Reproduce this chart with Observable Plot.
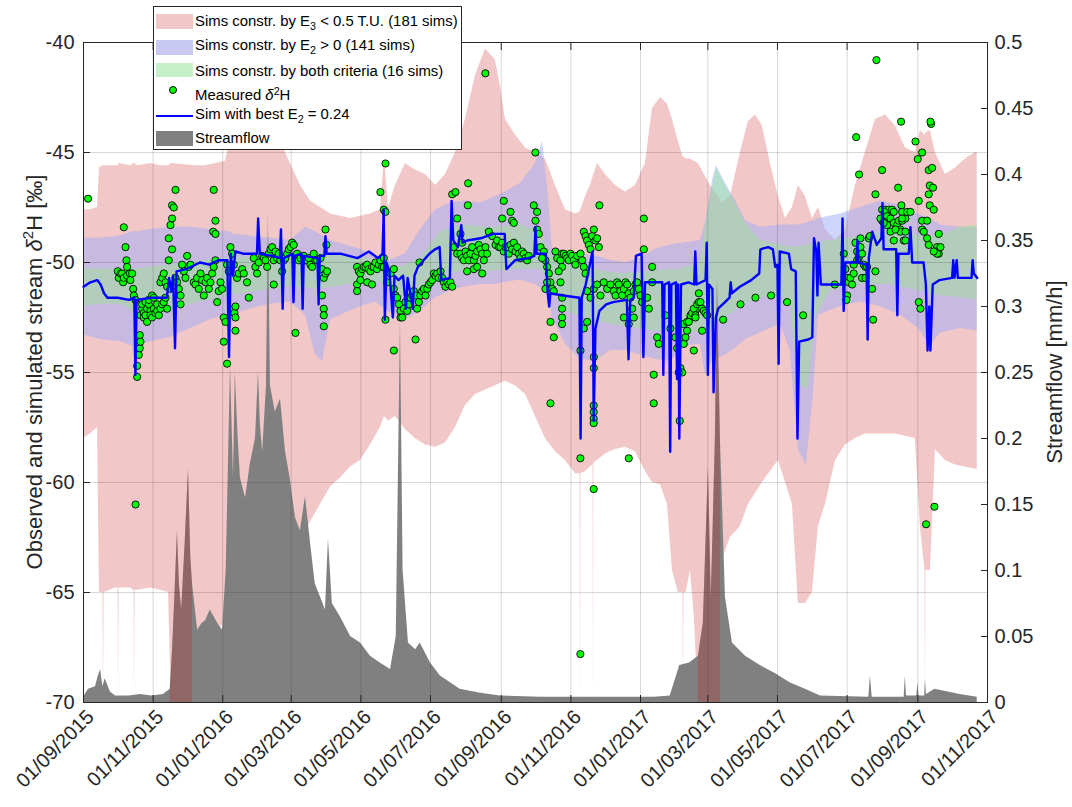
<!DOCTYPE html>
<html><head><meta charset="utf-8">
<script src="https://cdn.jsdelivr.net/npm/d3@7"></script>
<script src="https://cdn.jsdelivr.net/npm/@observablehq/plot@0.6"></script>
<style>
body{margin:0;background:#fff;font-family:"Liberation Sans",Arial,Helvetica,sans-serif;}
#wrap{position:relative;width:1072px;height:807px;}
#legend{position:absolute;left:153px;top:6px;width:307px;height:142px;border:1px solid #262626;background:#fff;font-size:14.9px;color:#000;line-height:17px;}
.sw{position:absolute;left:2px;width:37px;height:15px;}
.lbl{position:absolute;left:41px;white-space:nowrap;}
.dot{position:absolute;width:8px;height:8px;box-sizing:border-box;border:1px solid #000;border-radius:50%;background:#00ff00;}
.ln{position:absolute;left:2px;width:37px;height:2.2px;background:#0000ff;}
sub{font-size:72%;vertical-align:-0.4em;line-height:0;}
sup{font-size:72%;vertical-align:0.5em;line-height:0;}
</style></head><body>
<div id="wrap">
<div id="legend">
 <div class="sw" style="top:7px;background:#f0c8c8"></div>
 <div class="lbl" style="top:6px">Sims constr. by E<sub>3</sub> &lt; 0.5 T.U. (181 sims)</div>
 <div class="sw" style="top:33px;background:#c8c8f0"></div>
 <div class="lbl" style="top:30px">Sims constr. by E<sub>2</sub> &gt; 0 (141 sims)</div>
 <div class="sw" style="top:56px;height:14px;background:#c8f0c8"></div>
 <div class="lbl" style="top:56px">Sims constr. by both criteria (16 sims)</div>
 <div class="dot" style="left:15px;top:79px"></div>
 <div class="lbl" style="top:80px">Measured <i>δ</i><sup>2</sup>H</div>
 <div class="ln" style="top:108px"></div>
 <div class="lbl" style="top:99px">Sim with best E<sub>2</sub> = 0.24</div>
 <div class="sw" style="top:124px;background:#808080"></div>
 <div class="lbl" style="top:123px">Streamflow</div>
</div>
</div>
<script>
// day offsets from 2015-09-01
const startDate = "2015-09-01";
const xTickLabels = ["2015-09-01","2015-11-01","2016-01-01","2016-03-01","2016-05-01","2016-07-01","2016-09-01","2016-11-01","2017-01-01","2017-03-01","2017-05-01","2017-07-01","2017-09-01","2017-11-01"];
const yLeftTicks = [-70,-65,-60,-55,-50,-45,-40];
const yRightTicks = [0,0.05,0.1,0.15,0.2,0.25,0.3,0.35,0.4,0.45,0.5];

// streamflow [day, mm/h]
const streamflow = [[0,0.004],[4.4,0.01],[10.5,0.012],[13,0.02],[15,0.025],[17,0.012],[19,0.018],[23.6,0.008],[28,0.005],[40,0.005],[50,0.006],[60,0.005],[70,0.006],[76,0.01],[78,0.04],[80,0.08],[82.3,0.13],[84,0.09],[86,0.07],[89,0.12],[92,0.177],[94,0.11],[95.5,0.09],[100,0.055],[104,0.06],[107,0.062],[111,0.07],[115.6,0.063],[119,0.058],[121.8,0.055],[125,0.1],[128.8,0.255],[131.4,0.17],[133,0.25],[135.5,0.2],[137.5,0.17],[142,0.155],[146,0.18],[150.7,0.2],[153.3,0.25],[155,0.21],[157,0.19],[160.3,0.24],[162,0.37],[163.8,0.24],[168,0.22],[172.6,0.23],[177,0.19],[181,0.17],[185.7,0.14],[190,0.13],[194.5,0.156],[199,0.12],[203,0.09],[207.6,0.08],[212,0.07],[214.6,0.124],[218,0.075],[225,0.065],[234,0.05],[242.7,0.045],[251.4,0.035],[260,0.03],[269,0.025],[274,0.05],[277.7,0.29],[280,0.1],[284.7,0.045],[291,0.04],[295,0.045],[304,0.03],[312.7,0.02],[330,0.01],[348,0.007],[365,0.005],[400,0.004],[450,0.004],[500,0.004],[514,0.005],[519.5,0.02],[522.4,0.028],[531,0.03],[538.7,0.035],[543,0.06],[547.5,0.178],[550,0.08],[553.6,0.2],[555.4,0.32],[558,0.2],[562.4,0.08],[568.5,0.045],[580,0.035],[593,0.028],[606,0.022],[619,0.015],[632.5,0.01],[645.6,0.005],[688,0.004],[689.4,0.02],[691,0.004],[719,0.004],[720,0.02],[721,0.005],[730,0.005],[731,0.015],[732,0.005],[737,0.005],[737.6,0.018],[738.5,0.006],[746,0.01],[768,0.006],[783,0.004]];

// periods in which the E3 band reaches the bottom of the axis [from day, to day]
const e3DeepPeriods = [[76,99],[537,560]];

// band of sims constrained by E3 [day, low, high]
const bandE3 = [[0,-58.0,-47.6],[6.1,-57.8,-47.6],[12.3,-57.5,-47.5],[14,-65.0,-45.7],[17,-65.0,-45.6],[17.5,-70,-45.6],[18,-65.0,-45.6],[28,-64.8,-45.6],[30.3,-64.8,-45.6],[30.7,-70,-45.6],[31.1,-64.8,-45.5],[41.2,-64.8,-45.6],[44.3,-64.9,-45.5],[44.7,-70,-45.5],[45.1,-64.9,-45.5],[47.3,-64.9,-45.6],[58.7,-64.8,-45.5],[67.5,-64.9,-45.6],[74.5,-65.0,-45.6],[77,-70,-45.5],[98.1,-70,-45.6],[106.9,-68.5,-45.6],[115.6,-67.0,-45.5],[124.4,-66.2,-45.4],[130.5,-65.0,-44.0],[137.5,-64.8,-43.2],[150.7,-64.6,-42.8],[162,-64.5,-43.0],[172.6,-64.0,-44.5],[181.3,-63.6,-45.5],[190.1,-62.5,-46.5],[198.9,-61.8,-47.2],[207.6,-61.0,-47.5],[216.4,-60.2,-47.8],[225.2,-59.8,-47.9],[233.9,-59.3,-48.0],[242.7,-59.0,-47.9],[251.4,-58.3,-47.8],[260.2,-57.5,-47.6],[263.7,-57.0,-45.2],[267.2,-57.2,-47.5],[273.3,-57.0,-46.5],[282.1,-57.6,-45.5],[290.8,-58.0,-45.8],[299.6,-58.3,-46.0],[308.4,-58.4,-46.5],[317.1,-58.2,-46.0],[325.9,-57.5,-45.0],[334.6,-56.5,-43.5],[343.4,-56.0,-41.5],[352.2,-55.8,-40.3],[360.9,-55.6,-40.8],[365.3,-55.5,-42.0],[369.7,-55.4,-43.5],[378.4,-55.6,-44.2],[387.2,-56.0,-44.8],[396,-57.0,-45.0],[404.7,-58.0,-45.3],[413.5,-58.6,-46.5],[422.2,-59.0,-47.6],[431,-59.6,-47.8],[435,-59.6,-47.7],[435.4,-70,-47.6],[435.8,-59.6,-47.6],[439.8,-59.5,-47.0],[444.1,-59.3,-46.5],[446.5,-59.2,-46.1],[446.8,-70,-46.0],[447.2,-59.1,-46.0],[450.3,-59.0,-45.5],[457.3,-58.7,-46.0],[466,-58.5,-46.5],[474.8,-58.4,-46.8],[483.6,-58.6,-46.5],[492.3,-59.5,-45.5],[498.5,-60.0,-43.0],[505.5,-60.1,-42.5],[511.6,-61.0,-42.8],[516,-64.0,-43.5],[521.2,-65.0,-44.5],[525.2,-65.0,-45.2],[525.6,-70,-45.2],[526,-65.0,-45.2],[528,-65.0,-45.3],[531.7,-64.0,-45.3],[535,-66,-45.4],[538.7,-70,-45.5],[549.2,-70,-46.5],[556.3,-70,-47.0],[559.8,-63.5,-47.3],[566.8,-62.5,-47.0],[575.5,-62.0,-45.0],[582.5,-61.0,-43.6],[588.7,-60.5,-43.3],[594.8,-60.0,-43.8],[601.8,-59.5,-45.5],[608.8,-59.0,-47.0],[615,-60.0,-48.0],[621.1,-61.0,-47.5],[626.3,-65.5,-46.5],[632.5,-65.5,-47.0],[638.6,-65.0,-48.0],[643.9,-62.0,-47.5],[650,-61.0,-48.5],[658.8,-59.0,-49.0],[667.5,-58.3,-48.5],[676.3,-58.0,-46.5],[685,-57.8,-45.0],[693.8,-57.8,-43.5],[702.6,-57.8,-43.3],[711.3,-57.8,-43.8],[720.1,-57.9,-44.8],[728.8,-58.0,-45.0],[733.2,-62.0,-44.0],[737.2,-64,-44.2],[737.6,-70,-44.2],[738,-64,-44.1],[742,-64.0,-44.0],[746.4,-58.5,-45.0],[755.1,-59.0,-46.0],[763.9,-59.2,-45.7],[772.6,-59.3,-45.3],[781.4,-59.4,-45.0],[783,-59.4,-45.0]];

// band of sims constrained by E2 [day, low, high]
const bandE2 = [[0,-53.3,-48.9],[15,-53.5,-48.9],[32.4,-53.6,-48.8],[43,-53.8,-48.6],[45.5,-55.0,-48.6],[48,-53.8,-48.6],[58.7,-53.6,-48.5],[76.2,-53.4,-48.4],[93.7,-53.0,-48.4],[111,-52.6,-48.5],[127,-52.4,-48.6],[128.8,-54.0,-48.6],[130.5,-52.4,-48.7],[146,-52.1,-48.8],[163.8,-51.9,-48.9],[181.3,-51.8,-49.0],[194.5,-52.4,-48.4],[203.2,-54.2,-48.6],[209.4,-54.5,-48.8],[216.4,-52.6,-49.0],[229.5,-52.3,-49.2],[242.7,-52.0,-49.4],[255.8,-51.8,-49.7],[269,-52.3,-49.9],[282,-52.6,-49.6],[295.2,-52.2,-48.5],[308.4,-51.6,-47.6],[321.5,-51.3,-47.3],[334.6,-51.1,-47.2],[347.8,-51.0,-47.3],[361,-51.0,-47.0],[369.7,-50.9,-46.8],[382.9,-50.8,-46.4],[396,-51.0,-45.5],[402.2,-51.2,-44.5],[407.3,-51.5,-47.0],[410.8,-52.5,-49.4],[422.2,-53.7,-49.5],[435.4,-54.4,-49.6],[448.6,-54.5,-49.7],[461.7,-54.0,-49.9],[474.8,-54.0,-50.0],[488,-54.2,-49.8],[501,-54.4,-49.4],[514.2,-54.5,-49.2],[527.4,-53.8,-49.1],[540.5,-53.7,-49.0],[544.9,-55.1,-48.2],[547.5,-54.8,-47.4],[551,-54.5,-46.3],[554.5,-54.4,-45.6],[562.4,-54.2,-46.4],[571.2,-53.9,-47.2],[580,-53.5,-48.1],[593,-53.2,-48.4],[610.6,-52.8,-48.3],[619.3,-54.0,-48.3],[626.3,-58.5,-48.3],[633.3,-59.2,-48.2],[639.5,-56.0,-48.1],[643.9,-52.4,-48.0],[663.1,-52.0,-47.8],[680.6,-51.8,-47.5],[698.2,-52.0,-47.2],[715.7,-52.4,-47.4],[731.5,-53.0,-47.8],[742,-53.8,-48.0],[750.8,-53.2,-48.3],[768.3,-53.0,-48.4],[783,-53.1,-48.4]];

// band of sims constrained by both criteria [day, low, high]
const bandBoth = [[0,-52.0,-50.3],[15,-51.9,-50.3],[32.4,-51.9,-50.3],[45.5,-52.2,-50.3],[58.7,-52.3,-50.2],[76.2,-52.2,-50.1],[93.7,-51.9,-50.0],[111,-51.7,-49.9],[128.8,-51.5,-49.8],[155,-51.3,-49.7],[181.3,-51.1,-49.6],[207.6,-51.2,-49.6],[234,-51.0,-49.7],[260,-50.9,-49.9],[277.7,-51.5,-50.2],[295.2,-51.3,-49.8],[312.7,-50.7,-48.6],[330.3,-50.4,-48.3],[356.6,-50.4,-48.4],[382.9,-50.3,-48.3],[400.4,-50.3,-48.6],[409,-51.0,-49.6],[422.2,-52.2,-50.1],[444,-52.6,-50.3],[470.5,-52.9,-50.5],[496.7,-53.1,-50.4],[523,-53.2,-50.3],[540.5,-53.2,-50.0],[547.5,-53.0,-47.5],[554.5,-52.8,-45.7],[562.4,-52.5,-46.5],[571.2,-52.2,-47.3],[580,-51.9,-48.2],[593,-51.6,-49.0],[610.6,-51.5,-49.2],[619.3,-52.0,-49.3],[626.3,-55.5,-49.3],[635,-55.8,-49.2],[641.3,-52.5,-49.1],[654.4,-51.3,-49.0],[680.6,-51.0,-48.8],[707,-51.0,-48.5],[733.3,-51.3,-48.8],[750.8,-51.5,-48.8],[768.3,-51.6,-48.4],[783,-51.7,-48.3]];

// sim with best E2 [day, permil]
const bestSim = [[0,-51.1],[6,-50.9],[12,-50.8],[15,-51.0],[18,-51.4],[21,-51.6],[30,-51.6],[40,-51.7],[44.5,-51.6],[45.5,-55.1],[46.5,-51.7],[60,-51.6],[73,-51.6],[75,-50.7],[77,-51.3],[78.5,-50.6],[80.2,-53.9],[81.5,-50.4],[90,-50.3],[102,-50.0],[110,-50.1],[118,-49.9],[126,-49.9],[127.5,-54.3],[129,-49.6],[131,-50.6],[133,-49.5],[140,-49.6],[152,-49.6],[153,-48.0],[154.5,-49.6],[165,-49.7],[172,-49.8],[173,-48.5],[174.5,-52.1],[175.5,-49.8],[183,-49.6],[184,-51.8],[185,-49.7],[191,-49.6],[192,-52.1],[193,-49.7],[205,-49.8],[206,-51.9],[207,-49.7],[211,-49.7],[212,-48.8],[213,-49.6],[225,-49.6],[240,-49.8],[250,-49.5],[258,-49.8],[262,-49.6],[263,-47.6],[264,-52.6],[265.5,-50.0],[268,-50.4],[271,-52.5],[272.5,-50.6],[276,-50.8],[280,-50.6],[282.5,-52.1],[284,-50.7],[288.5,-52.1],[290,-50.6],[293,-50.2],[298,-49.9],[303,-49.6],[308,-49.4],[312,-49.3],[313.5,-50.8],[321,-50.7],[322.5,-47.2],[324,-49.0],[328,-49.3],[331,-48.3],[332,-49.1],[336,-49.0],[348,-48.9],[359,-48.7],[369,-48.7],[370.5,-50.3],[378,-49.9],[390,-49.8],[395,-49.7],[396,-48.4],[397,-49.6],[405,-49.6],[406.5,-51.3],[408,-52.0],[409,-51.4],[420,-51.5],[434.5,-51.6],[435.5,-58.0],[436.5,-51.6],[440,-51.0],[446,-49.5],[447,-57.2],[448.5,-53.0],[452,-52.2],[458,-51.9],[464,-51.8],[476,-51.7],[477.5,-54.4],[479,-51.7],[482,-51.6],[484,-49.7],[489,-49.6],[490.5,-54.3],[492,-50.9],[500,-50.9],[507,-50.9],[508,-55.1],[509,-51.0],[513,-50.9],[514,-58.6],[515,-51.0],[519,-50.9],[520,-55.3],[521,-51.0],[522,-58.0],[523.5,-51.0],[530,-50.9],[535,-51.0],[536,-49.5],[537,-51.0],[545,-50.8],[546,-49.1],[547,-55.1],[548,-51.0],[551,-51.2],[552,-55.9],[554,-52.5],[556,-52.1],[562,-51.8],[566,-51.6],[567,-50.9],[568,-51.4],[575,-51.1],[585,-50.8],[592,-50.5],[593,-49.4],[600,-49.3],[604,-49.4],[606,-50.2],[608,-50.1],[609,-54.6],[610,-49.5],[618,-49.6],[620,-50.3],[624,-50.4],[625.5,-58.0],[627,-53.6],[635,-53.5],[638.5,-53.4],[640,-48.9],[642,-49.5],[643,-51.5],[644,-49.1],[646,-51.0],[655,-51.0],[664,-51.0],[665,-48.0],[666,-52.2],[667.5,-50.0],[677,-50.0],[678,-49.0],[679,-50.0],[686,-50.1],[687,-53.5],[688,-49.8],[691,-48.6],[695,-49.2],[699,-48.9],[700,-47.3],[701,-49.4],[712,-49.4],[713,-52.4],[714,-49.6],[723,-49.6],[724.5,-48.4],[726,-50.0],[736,-50.0],[738,-51.0],[739.5,-54.0],[741,-52.0],[742,-54.0],[744,-51.0],[750,-50.8],[761,-50.7],[762,-49.9],[763,-50.7],[765,-49.9],[766,-50.7],[778,-50.7],[779,-49.9],[780,-50.5],[783,-50.7]];

// measured stream d2H [day, permil]
const measured = [[4,-47.1],
[30,-50.4],[30.9,-50.7],[32.4,-50.5],[33.8,-50.5],[34.7,-50.9],[35.3,-50.7],[35.3,-48.4],[36.8,-49.3],[37.6,-49.9],[38.2,-50.2],[38.2,-50.6],[40.6,-50.5],[41.1,-50.8],[42.6,-50.5],[43.5,-51.2],[44.1,-51.5],[45.5,-51.7],[45.6,-61.0],
[47,-54.7],[47,-55.2],[48.4,-54.2],[49.3,-53.3],[49.3,-53.9],[49.9,-53.6],[49.9,-52.4],
[51.4,-52.1],[51.4,-51.9],[52.8,-52.3],[52.8,-52.5],[54.3,-52.4],[54.3,-51.8],[55.7,-52.1],[55.7,-52.7],[57.2,-51.9],[57.2,-51.7],[58.7,-52.2],[58.7,-52.4],[60.1,-52.5],[60.1,-51.5],[61.6,-52.1],[61.6,-51.6],[63,-52.3],[64.5,-52.2],[64.5,-51.9],[66,-52.4],[67.4,-52.1],[67.4,-50.9],[68.9,-51.9],[68.9,-50.7],[70.3,-51.8],[70.3,-50.5],[71.8,-51.6],[71.8,-50.9],[73.3,-52.1],[73.3,-51.1],
[74.7,-48.9],[74.7,-49.9],[76.2,-48.3],[76.2,-51.2],[77.6,-48.0],[77.6,-47.4],[77.6,-49.4],[79.1,-47.5],[80.6,-46.7],
[80.6,-50.7],[82,-50.9],[83.5,-51.2],[85,-51.5],[85,-51.9],
[86.4,-50.1],[87.9,-50.4],[89.3,-50.7],[90.8,-49.7],[92.2,-50.2],[93.7,-50.1],[96.6,-50.9],[98.1,-51.0],[99.5,-50.7],[101,-51.2],[102.5,-50.5],[103.9,-50.8],[105.4,-51.5],[106.9,-50.9],[108.3,-50.7],[109.8,-51.2],[111.2,-50.9],[112.7,-50.5],[114.1,-50.2],[115.6,-49.9],
[114.1,-46.7],[115.6,-48.1],[113.6,-48.6],[115.6,-48.7],
[117.1,-51.8],[118.5,-51.3],[120,-50.9],[121.4,-51.2],[122.9,-52.5],[124.4,-52.7],[122.9,-53.6],[125.8,-54.6],
[125.8,-50.1],[127.3,-50.4],[128.7,-49.3],[130.2,-49.6],[131.7,-50.1],
[131.7,-52.1],[132.2,-52.3],[133.1,-52.5],[133.1,-53.1],[133.1,-52.0],
[134.6,-50.7],[136,-50.5],[139,-50.3],[140.4,-50.5],[143.3,-50.9],[144.8,-51.6],
[149.2,-49.8],[150.6,-50.2],[152.1,-50.5],[153.6,-50.0],
[156.5,-49.7],[158,-49.8],[159.4,-49.9],[160.9,-50.2],[162.3,-49.6],[163.8,-49.4],[165.2,-49.3],[166.7,-49.9],[166.7,-51.0],[168.2,-49.5],[169.6,-49.8],[171.1,-49.6],[172.5,-49.9],[174,-50.4],[175.5,-49.9],[176.9,-49.8],[178.4,-49.6],[179.8,-49.4],[181.3,-49.3],[182.8,-49.1],[184.2,-49.2],[185.7,-53.2],
[187.1,-49.6],[188.6,-49.9],[190.1,-49.8],[193,-49.7],[194.4,-49.9],[195.9,-49.9],[197.4,-49.8],[198.8,-50.1],[200.3,-50.2],[201.7,-49.6],[203.2,-49.9],[204.7,-49.9],[207.6,-49.8],[209,-51.5],[210.5,-52.1],[210.5,-52.4],[210.5,-52.9],[209,-50.3],[210.5,-50.7],[212,-50.5],[213.4,-50.4],[212,-48.5],[212.8,-49.2],
[239.7,-50.2],[241.2,-50.4],[242.6,-50.5],[244.1,-50.3],[245.5,-50.2],[247,-50.2],[248.5,-50.1],[249.9,-50.3],[251.4,-50.4],[252.8,-50.2],[254.3,-50.2],[255.8,-50.0],[257.2,-50.3],[258.7,-50.1],[260.1,-49.9],[261.6,-50.2],[263.1,-50.2],[263.1,-49.8],[239.7,-51.0],[239.7,-51.3],[242.6,-50.8],[248.5,-50.9],[252.8,-51.0],
[260.1,-46.8],[263.1,-47.6],[264.5,-47.7],[264.5,-52.6],[266,-50.9],[264.6,-45.5],
[266,-50.4],[269,-50.5],[271.9,-50.3],[271.9,-51.2],[273.3,-51.5],[271.9,-54.0],
[274.8,-51.6],[276.3,-51.9],[277.7,-52.2],[277.7,-52.5],[279.2,-52.5],[280.6,-52.1],[282.1,-51.8],[283.6,-52.2],[285,-51.9],[286.5,-51.6],[287.9,-51.5],[289.4,-51.3],[290.9,-51.5],[290.9,-53.5],[292.3,-52.1],[293.8,-51.8],[294.4,-50.0],[295.2,-51.5],[296.7,-51.3],[298.2,-51.2],[299.6,-51.5],[301.1,-51.2],[302.5,-51.0],[304,-50.9],[305.5,-50.8],[306.9,-50.5],[308.4,-50.6],[309.8,-50.5],[311.3,-50.7],[312.8,-50.4],[314.2,-50.7],[315.7,-50.9],[317.1,-51.1],[318.6,-50.9],[320.1,-51.0],[321.5,-50.9],[323,-51.1],
[323,-46.9],[325.9,-46.8],[337,-46.4],[336.7,-47.4],[327.4,-48.0],[330.3,-48.7],[331.7,-49.1],
[324.4,-49.3],[327.4,-49.6],[330.3,-49.6],[331.7,-49.8],[333.2,-49.9],[334.7,-49.5],[336.1,-49.7],[337.6,-49.9],[339,-49.6],[340.5,-49.3],[342,-49.9],[343.4,-49.7],[344.9,-49.5],[346.3,-49.2],[347.8,-49.4],[349.3,-49.6],[350.7,-49.9],[352.2,-49.3],[353.6,-49.6],[349.3,-50.5],[342,-50.3],[344.9,-50.2],[336.1,-50.4],
[355.1,-48.6],[358,-48.8],[352.1,-41.4],
[361,-49.2],[362.4,-49.0],[363.9,-49.3],[365.3,-49.3],[366.8,-49.1],[368.2,-49.5],[369.7,-49.3],[371.2,-49.3],[372.6,-49.6],[374.1,-49.2],[375.5,-49.4],[377,-49.1],[378.5,-49.5],[379.9,-49.3],[381.4,-49.6],[382.8,-49.8],[384.3,-49.5],[385.8,-49.6],[387.2,-49.8],[388.7,-49.9],[390.1,-49.7],[375.5,-48.1],[374.1,-47.7],[368.2,-47.2],[377,-48.2],[366.8,-48.0],
[394.5,-47.4],[397.4,-47.7],[396,-48.1],[397.4,-48.5],[398.9,-48.7],[395.9,-45.0],
[400.4,-49.3],[403.3,-49.5],[404.7,-49.9],[406.2,-50.2],[407.7,-50.5],[409.1,-50.9],[410.6,-51.2],[412,-51.3],[406.2,-50.9],[404.7,-51.2],[401.8,-49.8],
[413.5,-49.5],[409.1,-52.7],[412,-53.4],[409.1,-56.4],
[415,-49.8],[417.9,-49.9],[419.3,-49.6],[420.8,-49.6],[422.3,-49.7],[423.7,-49.8],[425.2,-49.9],[426.6,-49.6],[428.1,-49.7],[429.6,-49.9],[431,-50.1],[432.5,-49.7],[419.3,-50.2],[416.4,-50.4],[417.9,-50.9],[419.3,-51.6],[419.3,-52.1],[419.3,-52.5],[419.3,-52.8],
[438.3,-48.6],[439.8,-48.8],[441.2,-49.0],[442.7,-49.2],[444.2,-49.4],[445.6,-48.8],[447.1,-48.5],[448.5,-49.0],[450,-48.9],[451.5,-49.3],[435.4,-49.6],[436.9,-49.9],[438.3,-50.2],[439.8,-50.5],
[435.4,-54.0],[438.3,-53.0],[441.2,-52.7],[447.1,-54.3],[447.1,-54.8],[452,-47.4],
[435.3,-58.9],[435.3,-67.8],[447,-56.5],[447,-56.8],[447,-57.1],[447,-57.3],[447,-60.3],
[441.2,-51.3],[444.2,-51.6],[447.1,-51.2],[450,-51.0],[452.9,-51.5],[455.8,-50.9],[458.8,-51.2],[461.7,-51.0],[464.6,-51.3],[466.1,-51.5],[467.5,-50.9],[469,-51.0],[470.4,-51.3],[471.9,-51.5],[473.4,-51.2],[474.8,-50.9],[476.3,-51.0],[477.7,-51.4],[479.2,-51.6],[480.7,-52.1],[482.1,-51.3],[483.6,-51.0],[485,-50.9],[486.5,-51.2],[488,-51.5],[489.4,-51.8],
[490.9,-48.0],[490.9,-49.4],[482.1,-52.5],[477.7,-52.8],[473.4,-52.5],[477.7,-58.9],[498.2,-50.2],[498.2,-50.9],[493.8,-51.6],[495.3,-52.1],[502.6,-53.4],[504,-53.7],[499.6,-55.1],[499.6,-56.4],[509.9,-52.4],[514.2,-53.0],[518.6,-53.4],[520.1,-53.9],[523,-54.8],[524.5,-55.0],[521.5,-55.0],[522.4,-57.2],
[525.9,-52.8],[528.8,-52.7],[531.8,-52.5],[534.7,-52.4],[536.1,-52.2],[537.6,-52.1],
[525.9,-53.7],[527.4,-53.4],[528.8,-53.1],[530.3,-52.7],[531.8,-52.4],[533.2,-52.3],[534.7,-52.1],[536.1,-52.4],[537.6,-51.9],[539.1,-51.8],[540.5,-51.8],[542,-52.1],[543.4,-52.2],[544.9,-52.3],[546.4,-52.4],[539.1,-51.4],[534.7,-54.0],[542,-53.1],[536.1,-52.5],
[560.4,-52.6],[575.6,-51.9],[588.7,-51.6],[602.4,-51.5],[616.4,-51.8],[630.5,-52.4],
[658.2,-51.0],[666.1,-49.6],[667.5,-50.3],[669,-50.7],[669,-51.5],[668.4,-51.7],[670.5,-50.9],[671.9,-50.7],[673.4,-51.0],[674.8,-50.5],[676.3,-49.1],[677.8,-49.5],[679.2,-49.8],[680.7,-49.3],[682.1,-49.6],[683.6,-50.1],[685.1,-50.2],[682.1,-50.7],[685.1,-50.7],[686.5,-50.2],[688,-48.9],[688.9,-48.8],[690.9,-51.2],[691.8,-52.6],[693.8,-50.4],[680.7,-48.9],[677.8,-49.9],[674.8,-50.1],
[679.5,-46.0],[699.7,-45.8],[693.8,-46.9],[713.7,-46.6],[716.6,-47.4],[717.2,-47.7],[731.8,-47.2],[730.9,-45.3],[734.7,-45.0],[740.5,-45.8],[743.5,-45.7],[741.4,-46.5],[744.3,-46.6],[740.5,-46.9],[741.4,-47.4],[744.9,-47.6],
[699.7,-47.6],[702.6,-47.6],[705.5,-47.6],[708.4,-47.6],[709.9,-47.7],[701.7,-47.7],[704,-47.9],[707,-48.0],[709.9,-48.2],[712.8,-48.3],[715.7,-48.5],[715.7,-48.6],[718.6,-49.0],[720.1,-49.0],[709.9,-49.0],[707,-48.6],[704,-48.3],[711.3,-48.5],[714.3,-48.1],[717.2,-48.1],[720.1,-48.0],[721.6,-47.7],[724.5,-47.7],[699.7,-48.1],[698.2,-48.0],[701.1,-48.2],[720.1,-48.6],[717.2,-48.0],
[734.7,-48.1],[739.1,-48.1],[734.7,-48.5],[736.2,-48.6],[731.8,-51.8],[733.2,-52.1],[739.1,-48.9],[740.5,-49.2],
[749.3,-48.7],[747.8,-49.3],[746.4,-49.5],[749.3,-49.6],[747.8,-49.6],[750.8,-49.3],[744.9,-49.5],
[694.7,-40.8],[716.3,-43.6],[676.9,-44.3],[728.9,-44.5],[742.6,-43.7],[742,-43.6],[745.5,-61.1],[738.2,-61.9]];

const t0 = Date.parse(startDate + "T00:00:00Z");
const X = d => new Date(t0 + d[0] * 86400000);
const xTicks = xTickLabels.map(s => new Date(s + "T00:00:00Z"));
const fmtDate = d3.utcFormat("%d/%m/%Y");
// right (streamflow) axis shares the frame: 0..0.5 mm/h maps onto -70..-40
const qToY = q => -70 + q * 60;
const fmtQ = y => String(Math.round((y + 70) / 60 * 100) / 100);
const rightTickPos = yRightTicks.map(qToY);
const ink = "#262626";
const pinkFill = "rgb(200,20,20)";
const inDeep = d => e3DeepPeriods.some(([a, b]) => d[0] >= a && d[0] <= b);

const svg = Plot.plot({
  width: 1072, height: 807,
  marginLeft: 83, marginRight: 85, marginTop: 42, marginBottom: 105,
  style: {fontFamily: "'Liberation Sans', Arial, Helvetica, sans-serif", fontSize: "20px", color: ink, background: "white", overflow: "visible"},
  x: {type: "utc", domain: [xTicks[0], xTicks[xTicks.length - 1]]},
  y: {domain: [-70, -40]},
  marks: [
    Plot.areaY(bandE3, {x: X, y1: d => d[1], y2: d => d[2], fill: pinkFill, fillOpacity: 0.24}),
    Plot.areaY(bandE2, {x: X, y1: d => d[1], y2: d => d[2], fill: "rgb(157,171,251)", fillOpacity: 0.5}),
    Plot.areaY(bandBoth, {x: X, y1: d => d[1], y2: d => d[2], fill: "rgb(145,235,132)", fillOpacity: 0.4}),
    Plot.areaY(streamflow, {x: X, y1: d => qToY(0), y2: d => qToY(d[1]), fill: "#808080"}),
    Plot.areaY(streamflow, {filter: inDeep, x: X, y1: d => qToY(0), y2: d => qToY(d[1]), z: d => e3DeepPeriods.findIndex(([a, b]) => d[0] >= a && d[0] <= b), fill: pinkFill, fillOpacity: 0.24}),
    Plot.gridX(xTicks, {stroke: ink, strokeOpacity: 0.18}),
    Plot.gridY(yLeftTicks, {stroke: ink, strokeOpacity: 0.18}),
    Plot.dot(measured, {x: X, y: d => d[1], r: 3.6, fill: "#00ff00", stroke: "#000", strokeWidth: 0.9}),
    Plot.line(bestSim, {x: X, y: d => d[1], stroke: "#0000ff", strokeWidth: 2.4}),
    Plot.frame({stroke: ink}),
    Plot.axisX(xTicks, {anchor: "bottom", tickSize: 0, tickPadding: 11, dx: 7, tickRotate: -45, tickFormat: fmtDate, label: null}),
    Plot.axisX(xTicks, {anchor: "bottom", tickSize: 7, dy: -7, tickFormat: () => "", label: null}),
    Plot.axisX(xTicks, {anchor: "top", tickSize: 7, dy: 7, tickFormat: () => "", label: null}),
    Plot.axisY(yLeftTicks, {anchor: "left", tickSize: 0, tickPadding: 9, tickFormat: d => String(d), label: null}),
    Plot.axisY(yLeftTicks, {anchor: "left", tickSize: 7, dx: 7, tickFormat: () => "", label: null}),
    Plot.axisY(rightTickPos, {anchor: "right", tickSize: 0, tickPadding: 7, tickFormat: fmtQ, label: null}),
    Plot.axisY(rightTickPos, {anchor: "right", tickSize: 7, dx: -7, tickFormat: () => "", label: null})
  ]
});

const s = d3.select(svg);
const lt = s.append("text").attr("transform", "translate(42,372) rotate(-90)").attr("text-anchor", "middle").attr("font-size", 22).attr("fill", ink);
lt.append("tspan").text("Observed and simulated stream ");
lt.append("tspan").attr("font-style", "italic").text("δ");
lt.append("tspan").attr("font-size", 15).attr("dy", -9).text("2");
lt.append("tspan").attr("dy", 9).text("H [‰]");
s.append("text").attr("transform", "translate(1062,372) rotate(-90)").attr("text-anchor", "middle").attr("font-size", 22).attr("fill", ink).text("Streamflow [mm/h]");

const wrap = document.getElementById("wrap");
wrap.insertBefore(svg, document.getElementById("legend"));
</script>
</body></html>
